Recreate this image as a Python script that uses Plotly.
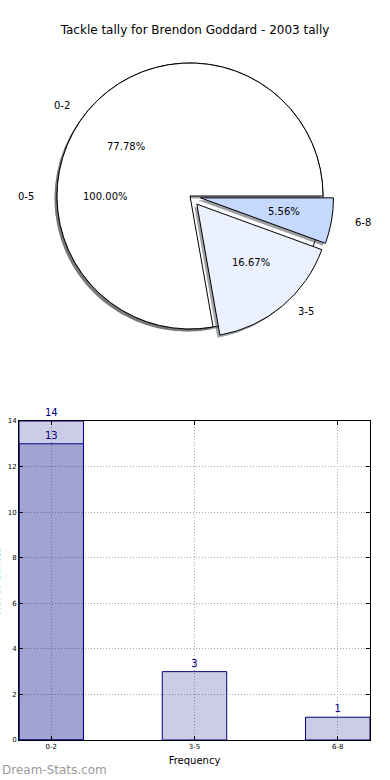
import numpy as np
import plotly.graph_objects as go

# ---------------- data ----------------
chart_title = "Tackle tally for Brendon Goddard - 2003 tally"

outer_labels = ["0-5"]
outer_values = [18]
outer_explode = [0.0]
outer_colors = ["#ffffff"]

pie_labels = ["0-2", "3-5", "6-8"]
pie_values = [14, 3, 1]
pie_explode = [0.0, 0.08, 0.08]
pie_colors = ["#ffffff", "#ebf1fe", "#c5d8fd"]

bar_categories = ["0-2", "3-5", "6-8"]
bar_values = [14, 3, 1]
overlay_categories = ["0-2"]
overlay_values = [13]
y_ticks = [0, 2, 4, 6, 8, 10, 12, 14]

x_title = "Frequency"
y_title = "No. of Games"
watermark = "Dream-Stats.com"

# ---------------- geometry / style ----------------
W, H = 390, 780
CX, CY = 190, 196          # pie centre (px)
R = 133                    # pie radius (px)
SH_DX, SH_DY = -2.5, 2.5   # shadow offset (px)
TEXT_RX, TEXT_RY = 140, 128
FONT = "DejaVu Sans"
NAVY = "#000080"


def domain(cx, cy, hs):
    return dict(x=[(cx - hs) / W, (cx + hs) / W],
                y=[1 - (cy + hs) / H, 1 - (cy - hs) / H])


def shadow_color(hexcol):
    hexcol = hexcol.lstrip("#")
    r, g, b = (int(hexcol[i:i + 2], 16) for i in (0, 2, 4))
    return f"rgba({int(r * 0.3)},{int(g * 0.3)},{int(b * 0.3)},0.5)"


def make_pie(labels, values, colors, pull, cx, cy, line_w):
    hs = R * (1 + max(pull))
    vals = np.asarray(values, dtype=float)
    first_frac = vals[0] / vals.sum()
    # first slice starts at 3 o'clock and runs counter-clockwise (matplotlib default)
    rotation = 90 - 360 * first_frac
    return go.Pie(
        labels=labels, values=values, sort=False,
        direction="counterclockwise", rotation=rotation, pull=pull,
        marker=dict(colors=colors, line=dict(color="black", width=line_w)),
        textinfo="none", hoverinfo="label+percent",
        domain=domain(cx, cy, hs), showlegend=False,
    )


fig = go.Figure()

# shadows + pies
fig.add_trace(make_pie(outer_labels, outer_values, [shadow_color(c) for c in outer_colors],
                       outer_explode, CX + SH_DX, CY + SH_DY, 0))
fig.add_trace(make_pie(outer_labels, outer_values, outer_colors, outer_explode, CX, CY, 1))
fig.add_trace(make_pie(pie_labels, pie_values, [shadow_color(c) for c in pie_colors],
                       pie_explode, CX + SH_DX, CY + SH_DY, 0))
fig.add_trace(make_pie(pie_labels, pie_values, pie_colors, pie_explode, CX, CY, 1))

annotations = []


def pie_texts(labels, values, explode):
    vals = np.asarray(values, dtype=float)
    frac = vals / vals.sum()
    mid = 2 * np.pi * (np.cumsum(frac) - frac / 2)
    for lab, f, a, e in zip(labels, frac, mid, explode):
        ox, oy = np.cos(a) * TEXT_RX, np.sin(a) * TEXT_RY
        lx, ly = CX + (1.1 + e) * ox, CY - (1.1 + e) * oy
        px, py = CX + (0.6 + e) * ox, CY - (0.6 + e) * oy
        annotations.append(dict(
            x=lx / W, y=1 - ly / H, xref="paper", yref="paper", text=lab,
            showarrow=False, xanchor="left" if np.cos(a) > 1e-9 else "right",
            yanchor="middle", font=dict(family=FONT, size=10, color="black")))
        annotations.append(dict(
            x=px / W, y=1 - py / H, xref="paper", yref="paper",
            text=f"{f * 100:.2f}%", showarrow=False, xanchor="center",
            yanchor="middle", font=dict(family=FONT, size=10, color="black")))


pie_texts(outer_labels, outer_values, outer_explode)
pie_texts(pie_labels, pie_values, pie_explode)

# bars
bar_style = dict(width=0.45, marker=dict(color="rgba(0,0,128,0.2)", line=dict(color=NAVY, width=1)),
                 textposition="outside", cliponaxis=False,
                 textfont=dict(family=FONT, size=10, color=NAVY), hoverinfo="x+y",
                 showlegend=False)
fig.add_trace(go.Bar(x=bar_categories, y=bar_values, text=[str(v) for v in bar_values], **bar_style))
fig.add_trace(go.Bar(x=overlay_categories, y=overlay_values, text=[str(v) for v in overlay_values], **bar_style))

ax_common = dict(showline=True, linecolor="black", linewidth=1, mirror="ticks",
                 ticks="inside", ticklen=4, tickcolor="black", automargin=False,
                 showgrid=True, gridcolor="#a8a8a8", griddash="1px,2px", gridwidth=1,
                 zeroline=False, tickfont=dict(family=FONT, size=7, color="black"))

annotations.append(dict(x=-4 / W, y=(40 + 359) / 2 / H, xref="paper", yref="paper",
                        text=y_title, textangle=-90, showarrow=False, xanchor="center",
                        yanchor="middle", font=dict(family=FONT, size=10, color="black")))
annotations.append(dict(x=0, y=1 - 770 / H, xref="paper", yref="paper", text=watermark,
                        showarrow=False, xanchor="left", yanchor="middle",
                        font=dict(family=FONT, size=12, color="#999999")))

fig.update_layout(
    width=W, height=H, margin=dict(l=0, r=0, t=0, b=0, autoexpand=False),
    paper_bgcolor="white", plot_bgcolor="white",
    font=dict(family=FONT, color="black"),
    title=dict(text=chart_title, x=0.5, xanchor="center", y=1 - 30 / H, yanchor="middle",
               font=dict(family=FONT, size=12, color="black")),
    barmode="overlay", showlegend=False,
    xaxis=dict(domain=[19 / W, 370 / W], type="category", range=[-0.225, 2.225],
               title=dict(text=x_title, standoff=6, font=dict(family=FONT, size=10)),
               **ax_common),
    yaxis=dict(domain=[40 / H, 359 / H], range=[0, 14], tickvals=y_ticks, **ax_common),
    annotations=annotations,
)

fig.write_html("out.html", config={"displayModeBar": False},
               post_script="document.body.style.margin='0px';")
